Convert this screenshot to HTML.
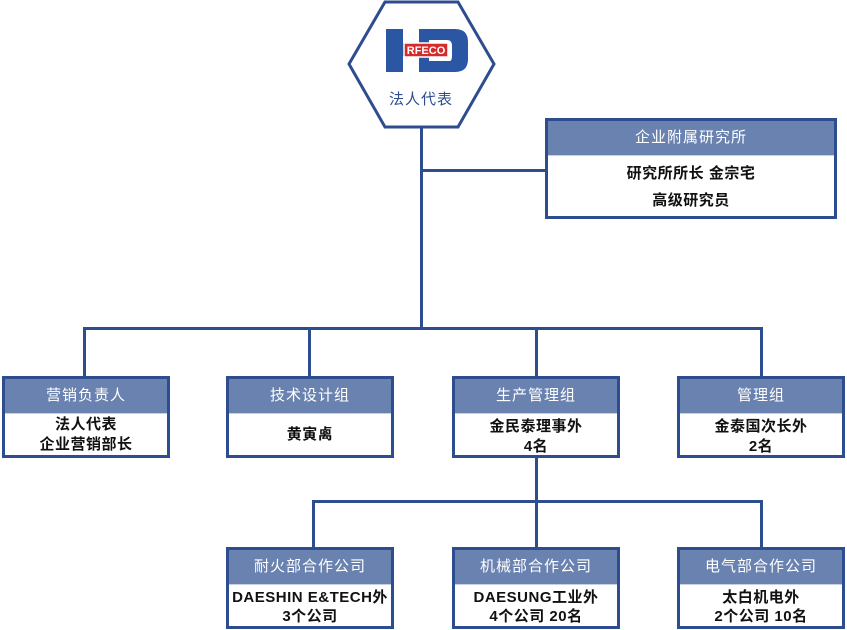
<!DOCTYPE html>
<html><head><meta charset="utf-8"><style>
body{margin:0;width:847px;height:630px;background:#fff;position:relative;overflow:hidden;font-family:"Liberation Sans","Noto Sans CJK SC",sans-serif}
.l{position:absolute;background:#2d4d8f}
.b{position:absolute;border:3px solid #2d4d8f;background:#fff;box-sizing:border-box}
.h{background:#6a82af;color:#fff;font-size:15px;text-align:center;border-bottom:1px solid #c8d0e0;box-sizing:border-box;letter-spacing:1px}
.c{text-align:center;font-size:15px;font-weight:bold;color:#111;line-height:20px;letter-spacing:0.5px}
</style></head><body>
<svg style="position:absolute;left:0;top:0" width="847" height="630">
<polygon points="385,2 458,2 494,64 458,127 385,127 349,64" fill="#fff" stroke="#2d4d8f" stroke-width="3"/>
<rect x="386" y="29" width="17" height="43" fill="#2a56a3"/>
<rect x="386" y="43" width="40" height="13" fill="#2a56a3"/>
<rect x="419" y="29" width="10" height="43" fill="#2a56a3"/>
<path d="M429 29 H455 Q468 29 468 42 V59 Q468 72 455 72 H429 V61 H450 Q452 61 452 55 V46 Q452 40 447 40 H429 Z" fill="#2a56a3"/>
<rect x="404" y="43" width="44" height="14" fill="#d52b2b" stroke="#fff" stroke-width="1.5"/>
<text x="426" y="54" font-size="11" font-weight="bold" fill="#fff" text-anchor="middle" font-family="Liberation Sans">RFECO</text>
<text x="421" y="104" font-size="15" fill="#2d4d8f" text-anchor="middle" font-family="Liberation Sans,Noto Sans CJK SC" letter-spacing="1">法人代表</text>
</svg>
<div class="l" style="left:420px;top:128px;width:3px;height:202px"></div>
<div class="l" style="left:420px;top:169px;width:126px;height:3px"></div>
<div class="l" style="left:83px;top:327px;width:680px;height:3px"></div>
<div class="l" style="left:83px;top:327px;width:3px;height:50px"></div>
<div class="l" style="left:308px;top:327px;width:3px;height:50px"></div>
<div class="l" style="left:535px;top:327px;width:3px;height:50px"></div>
<div class="l" style="left:760px;top:327px;width:3px;height:50px"></div>
<div class="l" style="left:535px;top:456px;width:3px;height:92px"></div>
<div class="l" style="left:312px;top:500px;width:451px;height:3px"></div>
<div class="l" style="left:312px;top:500px;width:3px;height:48px"></div>
<div class="l" style="left:760px;top:500px;width:3px;height:48px"></div>

<div class="b" style="left:545px;top:118px;width:292px;height:101px"><div class="h" style="height:35px;line-height:33px">企业附属研究所</div><div class="c" style="line-height:27px;padding-top:4px">研究所所长 金宗宅<br>高级研究员</div></div>

<div class="b" style="left:2px;top:376px;width:168px;height:82px"><div class="h" style="height:35px;line-height:33px">营销负责人</div><div class="c" style="line-height:20px;padding-top:1px">法人代表<br>企业营销部长</div></div>
<div class="b" style="left:226px;top:376px;width:168px;height:82px"><div class="h" style="height:35px;line-height:33px">技术设计组</div><div class="c" style="line-height:42px">黄寅禼</div></div>
<div class="b" style="left:452px;top:376px;width:168px;height:82px"><div class="h" style="height:35px;line-height:33px">生产管理组</div><div class="c" style="line-height:20px;padding-top:3px">金民泰理事外<br>4名</div></div>
<div class="b" style="left:677px;top:376px;width:168px;height:82px"><div class="h" style="height:35px;line-height:33px">管理组</div><div class="c" style="line-height:20px;padding-top:3px">金泰国次长外<br>2名</div></div>

<div class="b" style="left:226px;top:547px;width:168px;height:82px"><div class="h" style="height:35px;line-height:33px">耐火部合作公司</div><div class="c" style="line-height:19px;padding-top:3px">DAESHIN E&amp;TECH外<br>3个公司</div></div>
<div class="b" style="left:452px;top:547px;width:168px;height:82px"><div class="h" style="height:35px;line-height:33px">机械部合作公司</div><div class="c" style="line-height:19px;padding-top:3px">DAESUNG工业外<br>4个公司 20名</div></div>
<div class="b" style="left:677px;top:547px;width:168px;height:82px"><div class="h" style="height:35px;line-height:33px">电气部合作公司</div><div class="c" style="line-height:19px;padding-top:3px">太白机电外<br>2个公司 10名</div></div>
</body></html>
